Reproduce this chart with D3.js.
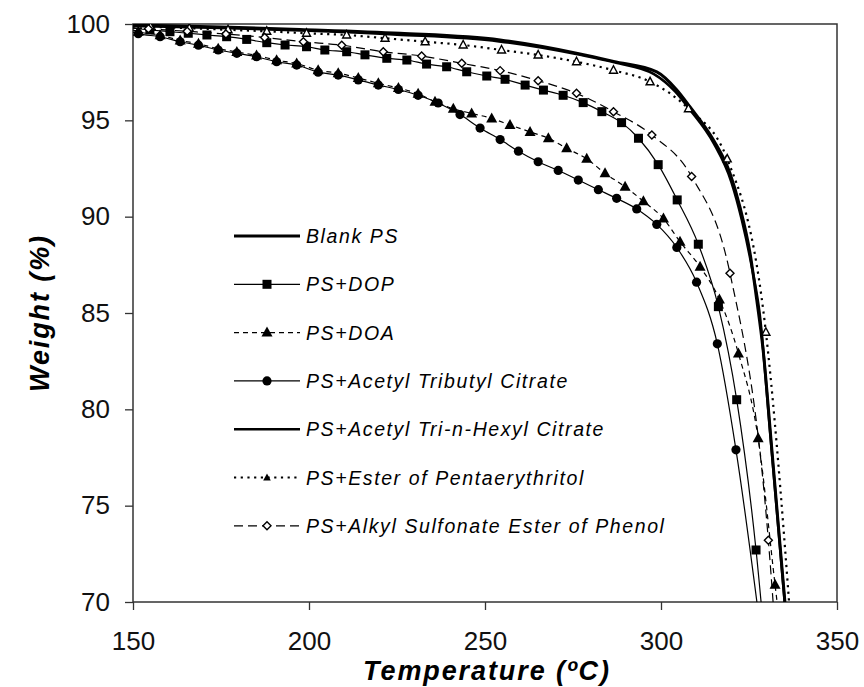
<!DOCTYPE html>
<html>
<head>
<meta charset="utf-8">
<script src="https://cdn.jsdelivr.net/npm/d3@7"></script>
<style>
  body { margin: 0; background: #fff; }
  svg { display: block; font-family: "Liberation Sans", Arial, sans-serif; }
</style>
</head>
<body>
<svg id="chart" width="864" height="687"></svg>
<script>
// temperatures (ºC) and weights (%)
const blankT = [150, 175, 197.4, 225.9, 254.3, 277, 286.5, 298.8, 304.5, 308.2, 314.9, 319.6, 322.4, 325.3, 327.2, 329, 331.4, 335.2, 337.1]
const blankW = [99.95, 99.85, 99.72, 99.52, 99.17, 98.45, 98.06, 97.52, 96.58, 95.71, 93.98, 92.25, 90.52, 88.1, 85.68, 83.1, 78.1, 70, 66]

const dopT = [150, 154.8, 160.5, 165.7, 171, 176.6, 182.3, 188, 193.2, 199.3, 204.5, 210.7, 215.9, 222.1, 227.8, 233.4, 239.1, 244.8, 250.5, 255.7, 261.4, 266.6, 272.2, 277.9, 283.2, 288.8, 293.6, 299.2, 304.6, 310.6, 316.3, 321.5, 327, 330.4]
const dopW = [99.78, 99.69, 99.6, 99.52, 99.43, 99.34, 99.2, 99.03, 98.91, 98.82, 98.65, 98.56, 98.4, 98.22, 98.13, 97.92, 97.78, 97.52, 97.3, 97.13, 96.83, 96.57, 96.3, 95.92, 95.45, 94.88, 94.07, 92.7, 90.87, 88.57, 85.33, 80.5, 72.7, 66]

const doaT = [150, 151.5, 157.7, 163.4, 168.6, 174.2, 179.5, 185.1, 190.8, 196.5, 202.6, 208.3, 214, 219.7, 225.4, 231, 235.8, 241, 246.2, 251.9, 257.1, 262.8, 268, 273.2, 278.9, 284.1, 289.8, 295, 300.7, 305.4, 311.1, 316.6, 322, 327.6, 332.4, 334.6]
const doaW = [99.68, 99.6, 99.42, 99.15, 98.97, 98.72, 98.55, 98.37, 98.12, 97.95, 97.6, 97.45, 97.2, 96.92, 96.68, 96.38, 95.97, 95.6, 95.36, 95.1, 94.76, 94.4, 94.07, 93.55, 93.0, 92.25, 91.55, 90.8, 89.9, 88.7, 87.4, 85.7, 82.9, 78.5, 70.9, 67.5]

const atbcT = [150, 151.5, 157.7, 163.4, 168.6, 174.2, 179.5, 185.1, 190.8, 196.5, 202.6, 208.3, 214, 219.7, 225.4, 231, 236.7, 242.9, 248.6, 254.3, 259.5, 265.1, 270.8, 276.5, 282.2, 287.4, 293.1, 298.8, 304.5, 310.1, 316, 321.3, 328.3]
const atbcW = [99.58, 99.5, 99.34, 99.08, 98.9, 98.65, 98.48, 98.3, 98.04, 97.87, 97.5, 97.35, 97.1, 96.83, 96.6, 96.3, 95.9, 95.3, 94.6, 94.0, 93.4, 92.85, 92.4, 91.9, 91.4, 90.95, 90.4, 89.6, 88.4, 86.6, 83.4, 77.9, 68.5]

const athcT = [150, 175, 200, 225, 254, 277, 287, 298, 304, 308, 315, 320, 323, 326, 328, 331, 335, 337]
const athcW = [99.9, 99.8, 99.65, 99.45, 99.1, 98.4, 98.0, 97.4, 96.5, 95.6, 93.8, 91.8, 89.8, 87.2, 85.0, 78.8, 70.3, 66]

const pentT = [150, 155, 166, 177, 188, 199.3, 210.7, 221.6, 233, 243.8, 254.7, 265.1, 276, 286.5, 296.9, 307.8, 318.8, 329.8, 338]
const pentW = [99.88, 99.85, 99.78, 99.7, 99.62, 99.52, 99.43, 99.26, 99.08, 98.91, 98.65, 98.39, 98.04, 97.6, 97.0, 95.6, 93.0, 84.0, 66]

const alkT = [150, 154.4, 165.4, 176.4, 187.4, 198.4, 209.3, 221.1, 232, 243.4, 254.3, 265.1, 276, 286.5, 297.4, 308.7, 319.6, 330.5, 333.4]
const alkW = [99.8, 99.75, 99.62, 99.48, 99.3, 99.08, 98.9, 98.56, 98.34, 97.96, 97.58, 97.06, 96.4, 95.45, 94.24, 92.08, 87.06, 73.2, 66]

const xTicks = [150, 200, 250, 300, 350]
const yTicks = [70, 75, 80, 85, 90, 95, 100]

const series = [
  { name: 'Blank PS', t: blankT, w: blankW, width: 3, dash: null, marker: null },
  { name: 'PS+DOP', t: dopT, w: dopW, width: 1.2, dash: null, marker: 'square' },
  { name: 'PS+DOA', t: doaT, w: doaW, width: 1.2, dash: '5,4', marker: 'triangle' },
  { name: 'PS+Acetyl Tributyl Citrate', t: atbcT, w: atbcW, width: 1.2, dash: null, marker: 'circle' },
  { name: 'PS+Acetyl Tri-n-Hexyl Citrate', t: athcT, w: athcW, width: 2.6, dash: null, marker: null },
  { name: 'PS+Ester of Pentaerythritol', t: pentT, w: pentW, width: 2.2, dash: '2.2,4.5', marker: 'openTriangle', legendMarker: 'smallTriangle' },
  { name: 'PS+Alkyl Sulfonate Ester of Phenol', t: alkT, w: alkW, width: 1.2, dash: '9,5', marker: 'diamond' },
]

const svg = d3.select('#chart')
const plotLeft = 133
const plotRight = 837
const plotTop = 24
const plotBottom = 602

const x = d3.scaleLinear().domain([150, 350]).range([plotLeft, plotRight])
const y = d3.scaleLinear().domain([70, 100]).range([plotBottom, plotTop])

svg.append('defs').append('clipPath').attr('id', 'plot')
  .append('rect')
  .attr('x', plotLeft).attr('y', plotTop)
  .attr('width', plotRight - plotLeft).attr('height', plotBottom - plotTop)

// 坐标轴
const yAxis = svg.append('g')
  .attr('transform', `translate(${plotLeft},0)`)
  .call(d3.axisLeft(y).tickValues(yTicks).tickSize(8).tickPadding(15))
const xAxis = svg.append('g')
  .attr('transform', `translate(0,${plotBottom})`)
  .call(d3.axisBottom(x).tickValues(xTicks).tickSize(8).tickPadding(22))
;[xAxis, yAxis].forEach((g) => {
  g.select('.domain').remove()
  g.selectAll('.tick line').attr('stroke', '#333').attr('stroke-width', 1.3)
  g.selectAll('.tick text')
    .attr('fill', '#111')
    .attr('font-size', 26)
    .attr('font-family', '"Liberation Sans", Arial, sans-serif')
})

svg.append('rect')
  .attr('x', plotLeft).attr('y', plotTop)
  .attr('width', plotRight - plotLeft).attr('height', plotBottom - plotTop)
  .attr('fill', 'none')
  .attr('stroke', '#333')
  .attr('stroke-width', 1.5)

svg.append('text')
  .attr('x', (plotLeft + plotRight) / 2 + 2)
  .attr('y', 680)
  .attr('text-anchor', 'middle')
  .attr('font-size', 27)
  .attr('letter-spacing', 1.9)
  .attr('font-weight', 'bold')
  .attr('font-style', 'italic')
  .text('Temperature (ºC)')

svg.append('text')
  .attr('transform', `translate(49,${(plotTop + plotBottom) / 2}) rotate(-90)`)
  .attr('text-anchor', 'middle')
  .attr('font-size', 27)
  .attr('letter-spacing', 1.9)
  .attr('font-weight', 'bold')
  .attr('font-style', 'italic')
  .text('Weight (%)')

// 标记形状
function drawMarker(g, type, cx, cy) {
  if (type === 'square') {
    g.append('rect').attr('x', cx - 4.5).attr('y', cy - 4.5).attr('width', 9).attr('height', 9).attr('fill', '#000')
  } else if (type === 'circle') {
    g.append('circle').attr('cx', cx).attr('cy', cy).attr('r', 4.6).attr('fill', '#000')
  } else if (type === 'triangle') {
    g.append('path').attr('d', `M${cx},${cy - 6}L${cx + 5.5},${cy + 4}L${cx - 5.5},${cy + 4}Z`).attr('fill', '#000')
  } else if (type === 'smallTriangle') {
    g.append('path').attr('d', `M${cx},${cy - 4}L${cx + 3.8},${cy + 3}L${cx - 3.8},${cy + 3}Z`).attr('fill', '#000')
  } else if (type === 'openTriangle') {
    g.append('path').attr('d', `M${cx},${cy - 4.5}L${cx + 4},${cy + 3}L${cx - 4},${cy + 3}Z`)
      .attr('fill', '#fff').attr('stroke', '#000').attr('stroke-width', 1.4)
  } else if (type === 'diamond') {
    g.append('path').attr('d', `M${cx},${cy - 4}L${cx + 4},${cy}L${cx},${cy + 4}L${cx - 4},${cy}Z`)
      .attr('fill', '#fff').attr('stroke', '#000').attr('stroke-width', 1.4)
  }
}

const line = d3.line()
  .x(d => x(d[0]))
  .y(d => y(d[1]))
  .curve(d3.curveMonotoneX)

const plot = svg.append('g').attr('clip-path', 'url(#plot)')

series.forEach((s) => {
  const pts = s.t.map((t, i) => [t, s.w[i]])
  plot.append('path')
    .datum(pts)
    .attr('d', line)
    .attr('fill', 'none')
    .attr('stroke', '#000')
    .attr('stroke-width', s.width)
    .attr('stroke-dasharray', s.dash)
  if (s.marker) {
    const mg = plot.append('g')
    // the anchor point at the y axis and the ones below 70% carry no symbol
    pts.filter(p => p[0] > 150 && p[1] > 70).forEach((p) => {
      drawMarker(mg, s.marker, x(p[0]), y(p[1]))
    })
  }
})

// 图例
const legend = svg.append('g')
series.forEach((s, i) => {
  const ly = 236 + i * 48.3
  legend.append('line')
    .attr('x1', 234).attr('x2', 300)
    .attr('y1', ly).attr('y2', ly)
    .attr('stroke', '#000')
    .attr('stroke-width', s.width)
    .attr('stroke-dasharray', s.dash)
  if (s.marker) drawMarker(legend, s.legendMarker || s.marker, 267, ly)
  legend.append('text')
    .attr('x', 306)
    .attr('y', ly + 7)
    .attr('font-size', 19.5)
    .attr('letter-spacing', 1.6)
    .attr('font-style', 'italic')
    .text(s.name)
})
</script>
</body>
</html>
